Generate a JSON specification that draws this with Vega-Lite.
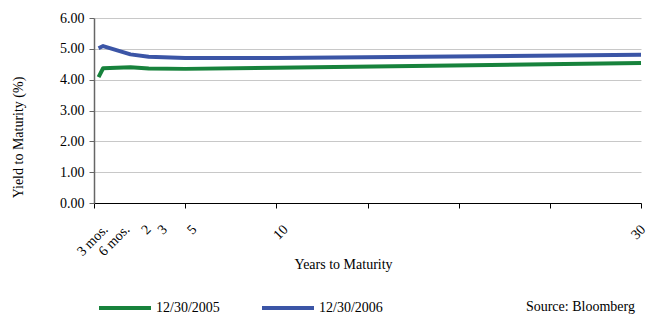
{
  "$schema": "https://vega.github.io/schema/vega-lite/v6.json",
  "width": 547,
  "height": 185,
  "autosize": "none",
  "padding": {"left": 94, "top": 18, "right": 6, "bottom": 111},
  "background": "white",
  "config": {
    "font": "Liberation Serif",
    "view": {"stroke": null},
    "title": {"font": "Liberation Serif"}
  },
  "title": {"text": "Source: Bloomberg", "orient": "bottom", "anchor": "end", "font": "Liberation Serif", "fontSize": 14, "fontWeight": "normal", "color": "black", "offset": -16, "dx": -13,
    "encode": {"title": {"update": {"dx": {"value": -13}}}}},
  "data": {"values": [
    {"years": 0.25, "yield": 4.08, "date": "12/30/2005"},
    {"years": 0.5, "yield": 4.37, "date": "12/30/2005"},
    {"years": 2, "yield": 4.40, "date": "12/30/2005"},
    {"years": 3, "yield": 4.36, "date": "12/30/2005"},
    {"years": 5, "yield": 4.35, "date": "12/30/2005"},
    {"years": 10, "yield": 4.39, "date": "12/30/2005"},
    {"years": 30, "yield": 4.54, "date": "12/30/2005"},
    {"years": 0.25, "yield": 5.02, "date": "12/30/2006"},
    {"years": 0.5, "yield": 5.09, "date": "12/30/2006"},
    {"years": 2, "yield": 4.82, "date": "12/30/2006"},
    {"years": 3, "yield": 4.74, "date": "12/30/2006"},
    {"years": 5, "yield": 4.70, "date": "12/30/2006"},
    {"years": 10, "yield": 4.70, "date": "12/30/2006"},
    {"years": 30, "yield": 4.81, "date": "12/30/2006"}
  ]},
  "mark": {"type": "line", "strokeWidth": 4, "strokeJoin": "round"},
  "encoding": {
    "x": {
      "field": "years", "type": "quantitative",
      "scale": {"domain": [0, 30], "nice": false, "zero": false},
      "axis": {
        "title": "Years to Maturity",
        "titleFont": "Liberation Serif", "titleFontSize": 14, "titleFontWeight": "normal", "titleColor": "black",
        "labelFont": "Liberation Serif", "labelFontSize": 14, "labelColor": "black",
        "titleX": 249, "titleY": 65, "titleBaseline": "alphabetic", "titleAlign": "center",
        "values": [0, 0.25, 0.5, 2, 3, 5, 10, 15, 20, 25, 30],
        "labelExpr": "datum.value == 0.25 ? '3 mos.' : datum.value == 0.5 ? '6 mos.' : (datum.value == 2 || datum.value == 3 || datum.value == 5 || datum.value == 10 || datum.value == 30) ? format(datum.value, 'd') : ''",
        "labelAngle": -45,
        "labelOverlap": false,
        "labelBound": false,
        "labelFlush": false,
        "labelPadding": 14,
        "grid": false,
        "domainColor": "black",
        "tickColor": "black",
        "tickSize": 5,
        "tickOpacity": {"condition": {"test": "datum.value % 5 == 0", "value": 1}, "value": 0},
        "labelOffset": {"condition": [
          {"test": "datum.value == 0.25", "value": 2},
          {"test": "datum.value == 0.5", "value": 19},
          {"test": "datum.value == 2", "value": 13},
          {"test": "datum.value == 3", "value": 11},
          {"test": "datum.value == 30", "value": -3}
        ], "value": 4}
      }
    },
    "y": {
      "field": "yield", "type": "quantitative",
      "scale": {"domain": [0, 6], "nice": false},
      "axis": {
        "title": "Yield to Maturity (%)",
        "titleFont": "Liberation Serif", "titleFontSize": 14, "titleFontWeight": "normal", "titleColor": "black",
        "labelFont": "Liberation Serif", "labelFontSize": 14, "labelColor": "black",
        "titleX": -76, "titleY": 119, "titleAngle": -90, "titleBaseline": "middle", "titleAlign": "center",
        "values": [0, 1, 2, 3, 4, 5, 6],
        "format": ".2f",
        "labelPadding": 5,
        "tickSize": 5,
        "tickColor": "#666666",
        "domainColor": "#666666",
        "domainWidth": 1.5,
        "gridColor": "#c8c8c8",
        "gridWidth": 1
      }
    },
    "color": {
      "field": "date", "type": "nominal",
      "scale": {"domain": ["12/30/2005", "12/30/2006"], "range": ["#17823c", "#3b55a6"]},
      "legend": {
        "title": null, "orient": "none", "direction": "horizontal",
        "legendX": 3, "legendY": 262,
        "labelFont": "Liberation Serif", "labelFontSize": 14, "labelColor": "black",
        "symbolType": "stroke", "symbolSize": 2704, "symbolStrokeWidth": 4,
        "labelOffset": 3, "columnPadding": 34
      }
    }
  }
}
